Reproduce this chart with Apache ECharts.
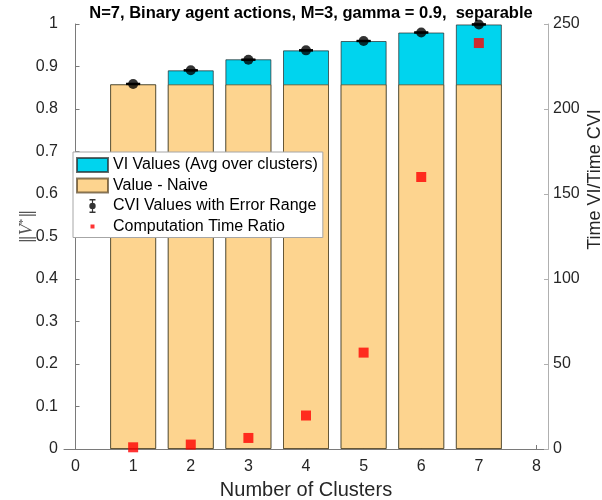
<!DOCTYPE html>
<html>
<head>
<meta charset="utf-8">
<script src="https://cdn.jsdelivr.net/npm/echarts@6/dist/echarts.min.js"></script>
<style>html,body{margin:0;padding:0;background:#fff}#c{width:602px;height:500px}</style>
</head>
<body>
<div id="c"></div>
<script>
// ---- data ----
const clusters = [1, 2, 3, 4, 5, 6, 7];
const viValues = [0.858, 0.891, 0.917, 0.938, 0.960, 0.980, 0.999];
const naiveValues = [0.858, 0.858, 0.858, 0.858, 0.858, 0.858, 0.858];
const cviValues = [0.859, 0.891, 0.916, 0.938, 0.960, 0.980, 0.999];
const cviLow = [0.8585, 0.8905, 0.9155, 0.9375, 0.9595, 0.9795, 0.9985];
const cviHigh = [0.8595, 0.8915, 0.9165, 0.9385, 0.9605, 0.9805, 0.9995];
const timeRatio = [1.0, 2.6, 6.5, 19.7, 56.7, 160, 238.8];
const xTicks = [0, 1, 2, 3, 4, 5, 6, 7, 8];

const FONT = '"Liberation Sans", Arial, Helvetica, sans-serif';
const chart = echarts.init(document.getElementById('c'), null, {renderer: 'canvas'});

const pair = (xs, ys) => xs.map((x, i) => [x, ys[i]]);

const cviIcon = 'path://M6.4,0 h1.2 v14 h-1.2 Z M4,0 h6 v1.6 h-6 Z M4,12.4 h6 v1.6 h-6 Z M3.8,7 A3.2,3.2 0 1,1 10.2,7 A3.2,3.2 0 1,1 3.8,7 Z';
const redIcon = 'path://M0,0 M14,14 M5,5 L9,5 L9,9 L5,9 Z';

const option = {
  animation: false,
  backgroundColor: '#fff',
  textStyle: {fontFamily: FONT},
  title: {
    text: 'N=7, Binary agent actions, M=3, gamma = 0.9,  separable',
    left: 306, top: 0, textAlign: 'center',
    textStyle: {fontFamily: FONT, fontSize: 16.5, fontWeight: 'bold', color: '#000'}
  },
  grid: {left: 64, right: 54, top: 24, bottom: 51, containLabel: false, outerBoundsMode: 'none'},
  legend: {
    orient: 'vertical', left: 73, top: 152,
    padding: [5, 5, 3, 3],
    itemWidth: 31, itemHeight: 14, itemGap: 4.5,
    backgroundColor: '#fff', borderColor: '#a6a6a6', borderWidth: 1,
    textStyle: {fontFamily: FONT, fontSize: 16, color: '#000', lineHeight: 16},
    data: [
      {name: 'VI Values (Avg over clusters)', icon: 'rect'},
      {name: 'Value - Naive', icon: 'rect'},
      {name: 'CVI Values with Error Range', icon: cviIcon},
      {name: 'Computation Time Ratio', icon: redIcon}
    ]
  },
  xAxis: {
    type: 'value', min: -0.2, max: 8.2,
    name: 'Number of Clusters', nameLocation: 'middle', nameGap: 31, nameMoveOverlap: false,
    nameTextStyle: {fontFamily: FONT, fontSize: 20, color: '#262626'},
    axisLine: {show: true, onZero: false, lineStyle: {color: '#7a7a7a', width: 1}},
    axisTick: {show: true, inside: true, length: 4, customValues: xTicks, lineStyle: {color: '#7a7a7a'}},
    axisLabel: {customValues: xTicks, margin: 10, fontFamily: FONT, fontSize: 16, color: '#262626'},
    splitLine: {show: false}
  },
  yAxis: [
    {
      type: 'value', min: 0, max: 1, interval: 0.1, position: 'left',
      name: '{n|‖}{v|V}{s|*}{n|‖}', nameLocation: 'middle', nameRotate: 90, nameGap: 27, nameMoveOverlap: false,
      nameTextStyle: {
        padding: [0, 0, 0, 20],
        rich: {
          n: {fontFamily: '"DejaVu Serif", "Liberation Serif", serif', fontSize: 16, color: '#555'},
          v: {fontFamily: '"Liberation Serif", serif', fontStyle: 'italic', fontSize: 18, color: '#555'},
          s: {fontFamily: '"Liberation Serif", serif', fontSize: 11, color: '#555', verticalAlign: 'top', padding: [0, 1, 8, 0]}
        }
      },
      axisLine: {show: true, lineStyle: {color: '#7a7a7a', width: 1}},
      axisTick: {show: true, inside: true, length: 4, lineStyle: {color: '#7a7a7a'}},
      axisLabel: {margin: 6, fontFamily: FONT, fontSize: 16, color: '#262626'},
      splitLine: {show: false}
    },
    {
      type: 'value', min: 0, max: 250, interval: 50, position: 'right',
      name: 'Time VI/Time CVI', nameLocation: 'middle', nameRotate: 90, nameGap: 38, nameMoveOverlap: false,
      nameTextStyle: {fontFamily: FONT, fontSize: 18, color: '#262626', padding: [0, 0, 0, 114]},
      axisLine: {show: true, lineStyle: {color: '#b0b0b0', width: 1}},
      axisTick: {show: true, inside: true, length: 4, lineStyle: {color: '#b0b0b0'}},
      axisLabel: {margin: 5, fontFamily: FONT, fontSize: 16, color: '#262626'},
      splitLine: {show: false}
    }
  ],
  series: [
    {
      name: 'VI Values (Avg over clusters)', type: 'bar', yAxisIndex: 0,
      data: pair(clusters, viValues), barWidth: 46, barGap: '-100%',
      itemStyle: {color: '#00d4ee', borderColor: 'rgba(40,40,40,0.7)', borderWidth: 1}
    },
    {
      name: 'Value - Naive', type: 'bar', yAxisIndex: 0,
      data: pair(clusters, naiveValues), barWidth: 46, barGap: '-100%',
      itemStyle: {color: '#fdd48f', borderColor: 'rgba(70,50,20,0.65)', borderWidth: 1}
    },
    {
      name: 'CVI error', type: 'custom', yAxisIndex: 0, z: 5,
      data: clusters.map((x, i) => [x, cviLow[i], cviHigh[i]]),
      renderItem: function (params, api) {
        const x = api.value(0);
        const lo = api.coord([x, api.value(1)]);
        const hi = api.coord([x, api.value(2)]);
        const hw = 7;
        const st = {stroke: '#000', lineWidth: 2, fill: 'none'};
        return {type: 'group', children: [
          {type: 'line', shape: {x1: lo[0], y1: lo[1], x2: hi[0], y2: hi[1]}, style: st},
          {type: 'line', shape: {x1: lo[0] - hw, y1: lo[1], x2: lo[0] + hw, y2: lo[1]}, style: st},
          {type: 'line', shape: {x1: hi[0] - hw, y1: hi[1], x2: hi[0] + hw, y2: hi[1]}, style: st}
        ]};
      }
    },
    {
      name: 'CVI Values with Error Range', type: 'scatter', yAxisIndex: 0, z: 6,
      data: pair(clusters, cviValues), symbol: 'circle', symbolSize: 10,
      itemStyle: {color: '#000'}
    },
    {
      name: 'Computation Time Ratio', type: 'scatter', yAxisIndex: 1, z: 7,
      data: pair(clusters, timeRatio), symbol: 'rect', symbolSize: 10,
      itemStyle: {color: '#ff0000'}
    }
  ]
};
chart.setOption(option);
</script>
</body>
</html>
